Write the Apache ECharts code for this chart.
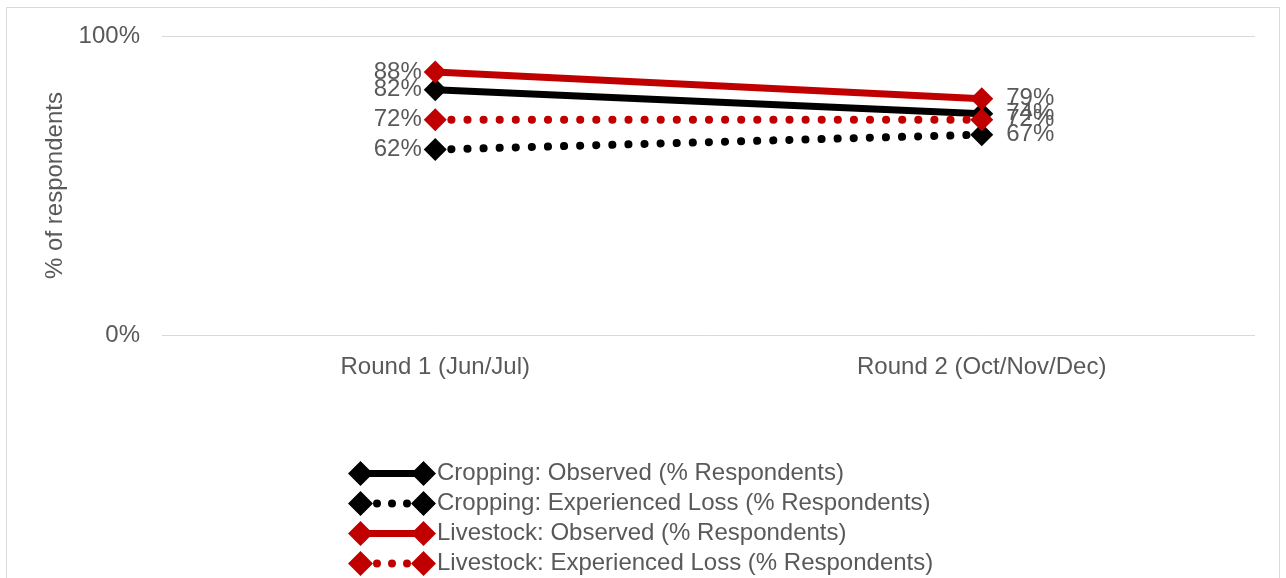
<!DOCTYPE html>
<html><head><meta charset="utf-8">
<script src="https://cdn.jsdelivr.net/npm/echarts@6/dist/echarts.min.js"></script>
<style>html,body{margin:0;padding:0;background:#fff}#c{width:1286px;height:578px}</style>
</head><body><div id="c"></div>
<script>
const categories = ['Round 1 (Jun/Jul)', 'Round 2 (Oct/Nov/Dec)'];
const seriesNames = ['Cropping: Observed (% Respondents)', 'Cropping: Experienced Loss (% Respondents)', 'Livestock: Observed (% Respondents)', 'Livestock: Experienced Loss (% Respondents)'];
const croppingObserved = [82, 74];
const croppingLoss = [62, 67];
const livestockObserved = [88, 79];
const livestockLoss = [72, 72];
const yTicks = [0, 100];

const font = '"Liberation Sans", Arial, sans-serif';
const textColor = '#595959';
const fs = 24;
const solidIcon = 'path://M0,12.5 L12.5,0 L25,12.5 L12.5,25 Z M12,9 L76,9 L76,16 L12,16 Z M63,12.5 L75.5,0 L88,12.5 L75.5,25 Z';
const dottedIcon = 'path://M0,12.5 L12.5,0 L25,12.5 L12.5,25 Z M63,12.5 L75.5,0 L88,12.5 L75.5,25 Z M25,12.5 A4,4 0 1,0 33,12.5 A4,4 0 1,0 25,12.5 Z M40,12.5 A4,4 0 1,0 48,12.5 A4,4 0 1,0 40,12.5 Z M55,12.5 A4,4 0 1,0 63,12.5 A4,4 0 1,0 55,12.5 Z';

function mk(name, vals, color, dotted) {
  return {
    name: name, type: 'line',
    data: vals.map((v, i) => ({value: v, label: {position: i === 0 ? 'left' : 'right', distance: i === 0 ? 2 : 13}})),
    symbol: 'diamond', symbolSize: 23,
    itemStyle: {color: color},
    lineStyle: dotted ? {color: color, width: 8, type: [0.1, 16], cap: 'round'} : {color: color, width: 7},
    label: {show: true, formatter: p => p.value + '%', fontSize: fs, color: textColor, fontFamily: font},
    labelLayout: {hideOverlap: false},
    animation: false
  };
}

const chart = echarts.init(document.getElementById('c'));
chart.setOption({
  animation: false,
  graphic: [{type: 'rect', shape: {x: 6.5, y: 7.5, width: 1273, height: 620}, style: {fill: 'none', stroke: '#d9d9d9', lineWidth: 1}, silent: true}],
  grid: {left: 162, right: 31, top: 36, bottom: 243},
  legend: {
    orient: 'vertical', left: 348, top: 461, padding: 0, itemWidth: 88, itemHeight: 25, itemGap: 5,
    textStyle: {fontSize: fs, lineHeight: 25, color: textColor, fontFamily: font, padding: [0, 0, 0, -4]},
    data: [
      {name: seriesNames[0], icon: solidIcon},
      {name: seriesNames[1], icon: dottedIcon},
      {name: seriesNames[2], icon: solidIcon},
      {name: seriesNames[3], icon: dottedIcon}
    ]
  },
  xAxis: {
    type: 'category', data: categories, boundaryGap: true,
    axisLine: {show: false}, axisTick: {show: false},
    axisLabel: {fontSize: fs, color: textColor, fontFamily: font, margin: 20}
  },
  yAxis: {
    type: 'value', min: yTicks[0], max: yTicks[1], interval: 100,
    name: '% of respondents', nameLocation: 'middle', nameGap: 94,
    nameTextStyle: {fontSize: fs, color: textColor, fontFamily: font},
    axisLabel: {formatter: '{value}%', fontSize: fs, color: textColor, fontFamily: font, margin: 22},
    splitLine: {lineStyle: {color: '#d9d9d9', width: 1}},
    axisLine: {show: false}, axisTick: {show: false}
  },
  series: [
    mk(seriesNames[0], croppingObserved, '#000000', false),
    mk(seriesNames[1], croppingLoss, '#000000', true),
    mk(seriesNames[2], livestockObserved, '#c00000', false),
    mk(seriesNames[3], livestockLoss, '#c00000', true)
  ]
});
</script></body></html>
